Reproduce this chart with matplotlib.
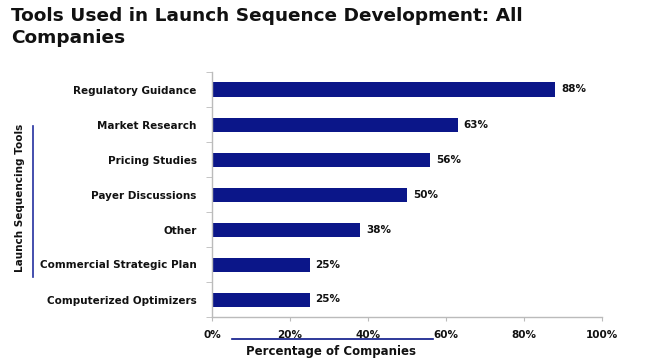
import matplotlib
matplotlib.use("Agg")
import matplotlib.pyplot as plt
from matplotlib.lines import Line2D

categories = ["Regulatory Guidance", "Market Research", "Pricing Studies",
              "Payer Discussions", "Other", "Commercial Strategic Plan",
              "Computerized Optimizers"]
values = [88, 63, 56, 50, 38, 25, 25]
xticks = [0, 20, 40, 60, 80, 100]
xtick_labels = ["0%", "20%", "40%", "60%", "80%", "100%"]

plt.rcParams['font.family'] = ['DejaVu Sans']

W, H = 645, 363
fig = plt.figure(figsize=(W / 100, H / 100), dpi=100)
ax = fig.add_axes([212 / W, 1 - 317 / H, 390 / W, 245 / H])

n = len(categories)
ypos = list(range(n))[::-1]
bar_color = "#0B1689"
ax.barh(ypos, values, height=0.4, color=bar_color)
for y, v in zip(ypos, values):
    ax.text(v + 1.5, y, f"{v}%", va="center", ha="left", fontsize=7.5,
            fontweight="bold", color="#111111")

ax.set_xlim(0, 100)
ax.set_ylim(-0.5, n - 0.5)
ax.set_xticks(xticks)
ax.set_xticklabels(xtick_labels, fontsize=7.5, fontweight="bold", color="#111111")
ax.set_yticks(ypos)
ax.set_yticklabels(categories, fontsize=7.5, fontweight="bold", color="#111111")
ax.tick_params(axis="y", length=0, pad=11)
ax.tick_params(axis="x", length=3, color="#BBBBBB", pad=6)
ax.set_yticks([i - 0.5 for i in range(n + 1)], minor=True)
ax.tick_params(axis="y", which="minor", length=4, color="#BBBBBB")

for s in ["top", "right"]:
    ax.spines[s].set_visible(False)
for s in ["left", "bottom"]:
    ax.spines[s].set_color("#BBBBBB")
    ax.spines[s].set_linewidth(1)

fig.text(11 / W, 1 - 16 / H, "Tools Used in Launch Sequence Development: All",
         fontsize=13.3, fontweight="bold", va="center", ha="left", color="#111111")
fig.text(11 / W, 1 - 38 / H, "Companies",
         fontsize=13.3, fontweight="bold", va="center", ha="left", color="#111111")

fig.text(331 / W, 1 - 352 / H, "Percentage of Companies", fontsize=8.5,
         fontweight="bold", ha="center", va="center", color="#111111")
fig.add_artist(Line2D([232 / W, 433 / W], [1 - 339 / H, 1 - 339 / H],
                      color="#0B1689", linewidth=1.2))

fig.text(20 / W, 1 - 198 / H, "Launch Sequencing Tools", fontsize=7.5,
         fontweight="bold", ha="center", va="center", rotation=90, color="#111111")
fig.add_artist(Line2D([33 / W, 33 / W], [1 - 126 / H, 1 - 277 / H],
                      color="#2430A0", linewidth=1.2))

fig.savefig("out.png", dpi=100, facecolor="white")
